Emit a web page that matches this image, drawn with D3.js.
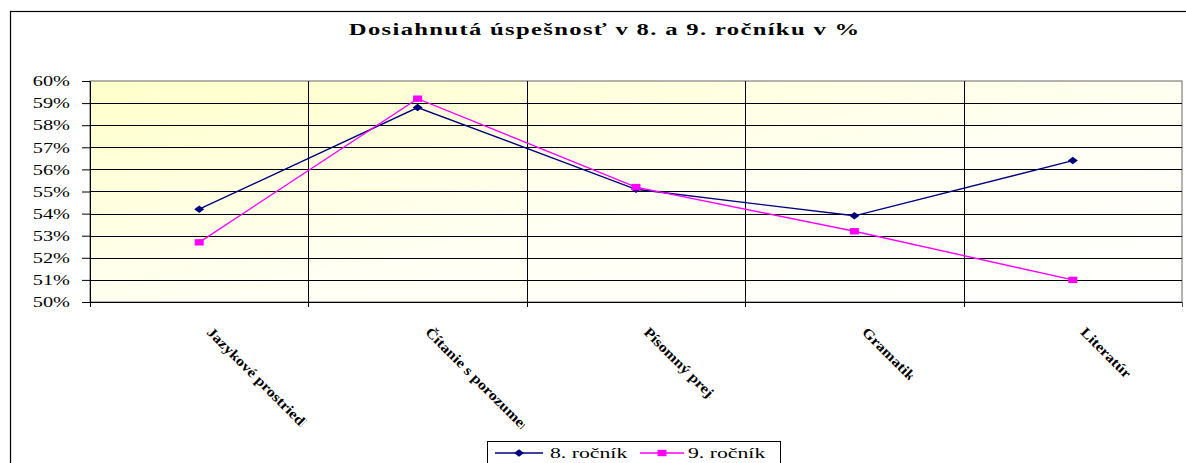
<!DOCTYPE html>
<html><head><meta charset="utf-8">
<script src="https://cdn.jsdelivr.net/npm/d3@7"></script>
<style>
html,body{margin:0;padding:0;background:#fff;overflow:hidden}
svg{display:block}
text{font-family:"Liberation Serif","Times New Roman",serif}
</style></head>
<body>
<svg id="chart" width="1186" height="463"></svg>
<script>
const titleText = "Dosiahnutá úspešnosť v 8. a 9. ročníku v %";
const categories = ["Jazykové prostriedky", "Čítanie s porozumením", "Písomný prejav", "Gramatika", "Literatúra"];
const seriesNames = ["8. ročník", "9. ročník"];
const grade8 = [0.542, 0.588, 0.551, 0.539, 0.564];
const grade9 = [0.527, 0.592, 0.552, 0.532, 0.510];
const yTicks = [0.50, 0.51, 0.52, 0.53, 0.54, 0.55, 0.56, 0.57, 0.58, 0.59, 0.60];
// visible length of each (clipped) category label, in px
const labelVisible = [133, 136, 93, 67, 65];

const SX = 1.45; // horizontal stretch of the original picture
const svg = d3.select("#chart");
const plot = {left: 90, right: 1182, top: 81, bottom: 302};

// outer frame
svg.append("rect").attr("x", 10.5).attr("y", 11.5).attr("width", 1200).attr("height", 500)
  .attr("fill", "#fff").attr("stroke", "#000").attr("stroke-width", 1.2);

const defs = svg.append("defs");
const grad = defs.append("linearGradient").attr("id", "bg")
  .attr("x1", 0).attr("y1", 0).attr("x2", 1).attr("y2", 1);
grad.append("stop").attr("offset", 0).attr("stop-color", "#FFFFCA");
grad.append("stop").attr("offset", 0.55).attr("stop-color", "#FFFFF3");
grad.append("stop").attr("offset", 1).attr("stop-color", "#FFFFFF");

const x = d3.scaleBand().domain(categories).range([plot.left, plot.right]).padding(0);
const y = d3.scaleLinear().domain([0.5, 0.6]).range([plot.bottom, plot.top]);
const cx = c => x(c) + x.bandwidth() / 2;

// plot area
svg.append("rect").attr("x", plot.left).attr("y", plot.top)
  .attr("width", plot.right - plot.left).attr("height", plot.bottom - plot.top)
  .attr("fill", "url(#bg)").attr("stroke", "#808080").attr("stroke-width", 1.2);

// horizontal gridlines
svg.append("g").selectAll("line").data(yTicks.filter(d => d > 0.5 && d < 0.6)).join("line")
  .attr("x1", plot.left).attr("x2", plot.right)
  .attr("y1", d => Math.round(y(d)) + 0.5).attr("y2", d => Math.round(y(d)) + 0.5)
  .attr("stroke", "#000").attr("stroke-width", 1);

// vertical gridlines at category boundaries + x ticks
const bounds = categories.map(c => x(c)).concat([plot.right]);
svg.append("g").selectAll("line").data(bounds).join("line")
  .attr("x1", d => Math.round(d) + 0.5).attr("x2", d => Math.round(d) + 0.5)
  .attr("y1", (d, i) => (i === 0 || i === bounds.length - 1) ? plot.bottom : plot.top)
  .attr("y2", plot.bottom + 5)
  .attr("stroke", (d, i) => i === bounds.length - 1 ? "#555" : "#000").attr("stroke-width", 1);

// y axis
const yAxis = svg.append("g").attr("transform", `translate(${plot.left},0)`)
  .call(d3.axisLeft(y).tickValues(yTicks).tickSize(8).tickPadding(0).tickFormat(d3.format(".0%")));
yAxis.select(".domain").attr("stroke", "#000");
yAxis.selectAll(".tick line").attr("stroke", "#000");
yAxis.selectAll(".tick text")
  .attr("x", -20 / SX).attr("dy", "0.34em")
  .attr("transform", `scale(${SX},1)`)
  .attr("font-family", "Liberation Serif").attr("font-size", 14).attr("fill", "#000");

// x axis line
svg.append("line").attr("x1", plot.left).attr("x2", plot.right)
  .attr("y1", plot.bottom + 0.5).attr("y2", plot.bottom + 0.5).attr("stroke", "#000");

// category labels (rotated 45°, stretched along baseline, clipped)
const LS = 1.16;
categories.forEach((c, i) => {
  const id = "clip" + i;
  const g = svg.append("g")
    .attr("transform", `translate(${cx(c) + 14},${plot.bottom + 24}) rotate(45) scale(${LS},1)`);
  g.append("clipPath").attr("id", id).append("rect")
    .attr("x", -3).attr("y", -4).attr("width", labelVisible[i] / LS + 3).attr("height", 20);
  g.append("text").attr("x", 0).attr("y", 10)
    .attr("font-size", 14).attr("font-weight", "bold").attr("fill", "#000")
    .attr("clip-path", `url(#${id})`).text(c);
});

// series
const series = [
  {name: seriesNames[0], values: grade8, color: "#000080", marker: "diamond"},
  {name: seriesNames[1], values: grade9, color: "#FF00FF", marker: "square"}
];
const markerPath = (m) => m === "diamond"
  ? "M-5,0L0,-3.8L5,0L0,3.8Z"
  : "M-4.5,-3.2H4.5V3.2H-4.5Z";
const line = d3.line().x((d, i) => cx(categories[i])).y(d => y(d));
series.forEach(s => {
  svg.append("path").attr("d", line(s.values)).attr("fill", "none")
    .attr("stroke", s.color).attr("stroke-width", 1.4);
  svg.append("g").selectAll("path").data(s.values).join("path")
    .attr("transform", (d, i) => `translate(${cx(categories[i])},${y(d)})`)
    .attr("d", markerPath(s.marker)).attr("fill", s.color);
});

// title
svg.append("g").attr("transform", `translate(604,34.5) scale(${SX},1)`)
  .append("text").attr("text-anchor", "middle")
  .attr("font-size", 17).attr("font-weight", "bold").attr("fill", "#000")
  .attr("textLength", 352).attr("lengthAdjust", "spacing")
  .text(titleText);

// legend
const lg = svg.append("g");
lg.append("rect").attr("x", 487.5).attr("y", 441.5).attr("width", 293).attr("height", 40)
  .attr("fill", "#fff").attr("stroke", "#000").attr("stroke-width", 1);
const legendItems = [{x0: 495, x1: 543, tx: 550}, {x0: 640, x1: 684, tx: 688}];
series.forEach((s, i) => {
  const it = legendItems[i];
  lg.append("line").attr("x1", it.x0).attr("x2", it.x1).attr("y1", 453).attr("y2", 453)
    .attr("stroke", s.color).attr("stroke-width", 1.4);
  lg.append("path").attr("transform", `translate(${(it.x0 + it.x1) / 2},453)`)
    .attr("d", markerPath(s.marker)).attr("fill", s.color);
  lg.append("g").attr("transform", `translate(${it.tx},457.5) scale(${SX},1)`)
    .append("text").attr("font-size", 15).attr("fill", "#000").text(s.name);
});
</script>
</body></html>
